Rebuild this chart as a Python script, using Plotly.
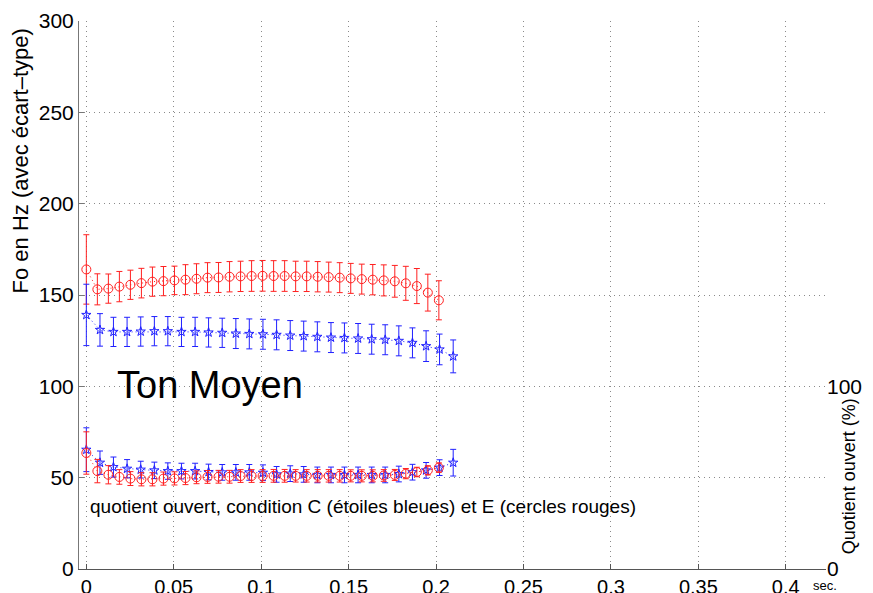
import plotly.graph_objects as go

# ---- data ----
t_red = [0, .0063, .0126, .0189, .0252, .0315, .0378, .0441, .0504, .0567, .063, .0693, .0756,
         .0819, .0882, .0945, .1008, .1071, .1134, .1197, .126, .1323, .1386, .1449, .1512,
         .1575, .1638, .1701, .1764, .1827, .189, .1953, .2016]
t_blue = [0, .0078, .0155, .0233, .0311, .0389, .0466, .0544, .0622, .0699, .0777, .0855, .0932,
          .1010, .1088, .1166, .1243, .1321, .1399, .1476, .1554, .1632, .1709, .1787, .1865,
          .1943, .2020, .2098]

f0_red = [164.0, 153.1, 153.5, 154.6, 155.6, 156.5, 157.3, 157.6, 158.0, 158.4, 158.9, 159.5,
          159.6, 160.0, 160.2, 160.4, 160.5, 160.4, 160.4, 160.2, 160.2, 160.0, 159.8, 159.5,
          159.1, 158.7, 158.4, 158.0, 157.5, 156.4, 154.9, 151.3, 147.1]
f0_red_sd = [19, 8.5, 8, 8.3, 8, 8.1, 8, 8, 7.8, 8.2, 8.2, 8.2, 8.2, 8.3, 8.3, 8.4, 8.4, 8.4,
             8.4, 8.3, 8.3, 8.3, 8.2, 8.2, 8.2, 8.2, 8.3, 8.5, 8.7, 9.3, 9.6, 10.1, 10.7]

f0_blue = [139.1, 130.9, 129.8, 129.8, 130.0, 130.2, 130.2, 129.8, 129.8, 129.5, 129.3, 128.9,
           128.7, 128.5, 128.2, 127.8, 127.5, 127.1, 126.7, 126.5, 126.2, 125.8, 125.5, 124.9,
           123.8, 122.0, 120.2, 116.4]
f0_blue_sd = [16.8, 8.9, 8.0, 8.0, 8.0, 8.0, 8.0, 8.0, 8.0, 8.0, 8.0, 8.2, 8.2, 8.2, 8.2, 8.2,
              8.2, 8.2, 8.2, 8.2, 8.2, 8.2, 8.2, 8.2, 8.2, 8.4, 8.4, 9.0]

qo_red = [63.5, 53.6, 51.6, 50.4, 49.5, 49.1, 49.1, 49.5, 49.6, 49.8, 50.2, 50.4, 50.5, 50.5,
          50.9, 50.9, 50.9, 51.0, 51.0, 51.0, 51.0, 51.0, 51.0, 51.0, 51.0, 51.0, 51.0, 51.2,
          51.5, 52.2, 53.1, 54.0, 55.5]
qo_red_sd = [11.6, 6.4, 5.0, 4.0, 3.8, 3.6, 3.6, 3.6, 3.6, 3.6, 3.5, 3.5, 3.5, 3.5, 3.5, 3.5,
             3.5, 3.5, 3.5, 3.4, 3.4, 3.4, 3.4, 3.4, 3.3, 3.3, 3.3, 3.2, 3.0, 2.8, 2.6, 2.5, 2.6]

qo_blue = [65.3, 58.2, 55.8, 54.9, 54.4, 54.0, 53.6, 53.6, 53.6, 53.1, 52.9, 52.9, 52.9, 52.7,
           51.8, 52.2, 51.8, 51.5, 51.5, 51.5, 51.5, 51.5, 51.5, 52.0, 53.0, 54.0, 55.5, 58.2]
qo_blue_sd = [12.0, 6.4, 5.5, 5.0, 4.6, 4.5, 4.5, 4.3, 4.3, 4.3, 4.3, 4.3, 4.3, 4.3, 4.3, 4.3,
              4.3, 4.3, 4.3, 4.3, 4.3, 4.3, 4.3, 4.3, 4.3, 4.3, 4.3, 7.3]

x_ticks = [0, 0.05, 0.1, 0.15, 0.2, 0.25, 0.3, 0.35, 0.4]
x_ticktext = ["0", "0.05", "0.1", "0.15", "0.2", "0.25", "0.3", "0.35", "0.4"]
y_ticks = [0, 50, 100, 150, 200, 250, 300]
y2_ticks = [0, 100]

FONT = "Liberation Sans, Arial, Helvetica, sans-serif"

fig = go.Figure()


def add_series(t, y, sd, color, symbol, size, yaxis="y"):
    fig.add_trace(go.Scatter(
        x=t, y=y, mode="lines+markers", yaxis=yaxis,
        line=dict(color=color, width=1, dash="1px,3px"),
        marker=dict(symbol=symbol, size=size, color=color, line=dict(color=color, width=1)),
        error_y=dict(type="data", array=sd, visible=True, color=color, thickness=1, width=3),
        showlegend=False, hoverinfo="skip"))


add_series(t_red, f0_red, f0_red_sd, "#ff2020", "circle-open", 9)
add_series(t_blue, f0_blue, f0_blue_sd, "#2020ff", "star-open", 7)
add_series(t_blue, qo_blue, qo_blue_sd, "#2020ff", "star-open", 7, "y2")
add_series(t_red, qo_red, qo_red_sd, "#ff2020", "circle-open", 9, "y2")

grid = dict(showgrid=True, gridcolor="#8a8a8a", gridwidth=1, griddash="1px,4px", zeroline=False)

# page body has an 8px margin: size the figure so it fills the 873x593 window
fig.update_layout(
    width=865, height=585,
    margin=dict(l=71, r=47, t=13, b=24),
    paper_bgcolor="white", plot_bgcolor="white",
    font=dict(family=FONT, color="black"),
    xaxis=dict(range=[-0.0042, 0.423], tickvals=x_ticks, ticktext=x_ticktext,
               tickfont=dict(size=20), showline=True, linecolor="#555555", linewidth=1,
               ticks="inside", ticklen=5, tickcolor="#555555", automargin=False,
               ticklabelstandoff=0, **grid),
    yaxis=dict(range=[0, 300], tickvals=y_ticks, tickfont=dict(size=21), showline=True,
               linecolor="#777777", linewidth=1, ticks="inside", ticklen=5,
               tickcolor="#777777", automargin=False, **grid),
    yaxis2=dict(range=[0, 300], overlaying="y", side="right", tickvals=y2_ticks,
                tickfont=dict(size=21), showgrid=False, zeroline=False, showline=False,
                ticks="", automargin=False),
    annotations=[
        dict(text="Ton Moyen", x=0.0165, y=101, xref="x", yref="y", xanchor="left",
             yanchor="middle", showarrow=False, font=dict(size=38)),
        dict(text="quotient ouvert, condition C (étoiles bleues) et E (cercles rouges)",
             x=0.001, y=34, xref="x", yref="y", xanchor="left", yanchor="middle",
             showarrow=False, font=dict(size=19)),
        dict(text="Fo en Hz (avec écart\u2013type)", x=-0.078, y=0.745, xref="paper",
             yref="paper", xanchor="center", yanchor="middle", textangle=-90,
             showarrow=False, font=dict(size=22)),
        dict(text="Quotient ouvert (%)", x=1.03, y=0.17, xref="paper", yref="paper",
             xanchor="center", yanchor="middle", textangle=-90, showarrow=False,
             font=dict(size=18)),
        dict(text="sec.", x=0.998, y=-0.03, xref="paper", yref="paper", xanchor="center",
             yanchor="middle", showarrow=False, font=dict(size=13)),
    ],
)

fig.write_html("out.html")
